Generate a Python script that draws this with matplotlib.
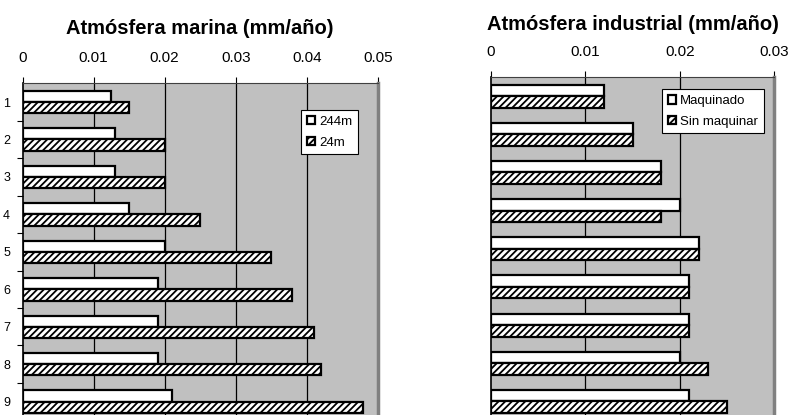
import matplotlib.pyplot as plt
import numpy as np

plt.rcParams['font.family'] = ['Liberation Sans', 'DejaVu Sans']
plt.rcParams['hatch.linewidth'] = 1.3

rows = [1, 2, 3, 4, 5, 6, 7, 8, 9]

# Atmosfera marina
marina_244m = [0.0125, 0.013, 0.013, 0.015, 0.02, 0.019, 0.019, 0.019, 0.021]
marina_24m = [0.015, 0.02, 0.02, 0.025, 0.035, 0.038, 0.041, 0.042, 0.048]

# Atmosfera industrial
ind_maquinado = [0.012, 0.015, 0.018, 0.02, 0.022, 0.021, 0.021, 0.02, 0.021]
ind_sin_maquinar = [0.012, 0.015, 0.018, 0.018, 0.022, 0.021, 0.021, 0.023, 0.025]


def draw(ax, a, b, labels, xmax, show_ylabels, legend_anchor):
	y = np.array(rows)
	h = 0.3
	ax.set_facecolor('#c0c0c0')
	ax.barh(y - h/2, a, height=h, color='white', edgecolor='black', linewidth=1.6, label=labels[0], zorder=3)
	ax.barh(y + h/2, b, height=h, color='white', edgecolor='black', hatch='/////', linewidth=1.6, label=labels[1], zorder=3)
	ax.set_xlim(0, xmax)
	ax.set_ylim(9.5, 0.5)
	xt = np.arange(0, xmax + 0.001, 0.01)
	ax.set_xticks(xt)
	ax.set_xticklabels(['0'] + ['%g' % v for v in xt[1:]])
	for v in xt[1:-1]:
		ax.axvline(v, color='black', linewidth=0.9, zorder=1)
	ax.xaxis.tick_top()
	ax.tick_params(axis='x', direction='out', length=4, width=0.8, pad=9, labelsize=11)
	ax.set_yticks(rows)
	if show_ylabels:
		ax.set_yticklabels([str(r) for r in rows])
		ax.set_yticks(np.arange(1.5, 9.5, 1), minor=True)
		ax.tick_params(axis='y', which='minor', direction='out', length=4, width=0.8)
	else:
		ax.set_yticklabels([])
	ax.tick_params(axis='y', which='major', length=0, pad=9, labelsize=9)
	ax.spines['bottom'].set_visible(False)
	ax.spines['top'].set_color('#404040')
	ax.spines['left'].set_color('black')
	ax.spines['left'].set_linewidth(1.2)
	ax.spines['right'].set_color('#808080')
	ax.spines['right'].set_linewidth(2.5)
	leg = ax.legend(loc='upper right', bbox_to_anchor=legend_anchor, fontsize=9.5,
		handlelength=0.6, handleheight=0.6, handletextpad=0.3, labelspacing=0.65,
		borderpad=0.45, borderaxespad=0, fancybox=False, framealpha=1, edgecolor='black')
	leg.get_frame().set_linewidth(0.8)
	leg.set_zorder(5)


fig = plt.figure(figsize=(7.9, 4.15), dpi=100)

ax1 = fig.add_axes([0.0287, -0.013, 0.4494, 0.8123])
draw(ax1, marina_244m, marina_24m, ['244m', '24m'], 0.05, True, (0.9445, 0.9208))

ax2 = fig.add_axes([0.6215, -0.0133, 0.3586, 0.8277])
draw(ax2, ind_maquinado, ind_sin_maquinar, ['Maquinado', 'Sin maquinar'], 0.03, False, (0.9636, 0.965))

fig.text(0.2532, 0.9325, 'Atmósfera marina (mm/año)', ha='center', va='center', fontsize=14.5, fontweight='bold')
fig.text(0.8006, 0.942, 'Atmósfera industrial (mm/año)', ha='center', va='center', fontsize=14.5, fontweight='bold')

plt.savefig('out.png', dpi=100)
